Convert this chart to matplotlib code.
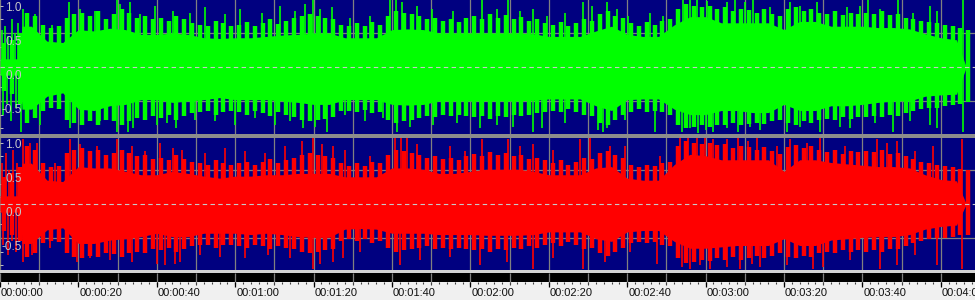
import numpy as np
import matplotlib
matplotlib.use('Agg')
import matplotlib.pyplot as plt
from matplotlib.patches import Rectangle

plt.rcParams['font.family'] = ['Liberation Sans', 'DejaVu Sans']

# dense body of each channel (time in s, amplitude)
body_t = [0, 5.2, 5.6, 8, 12, 16, 20, 24, 28, 32, 36, 40, 44, 48, 52, 56, 60, 64, 68, 72,
          76, 80, 84, 88, 92, 96, 100, 104, 108, 112, 116, 120, 124, 128, 132, 136, 140,
          144, 148, 152, 156, 160, 164, 168, 172, 176, 180, 184, 188, 192, 196, 200, 204,
          208, 212, 216, 220, 224, 228, 232, 236, 240, 244, 246.5]

green_top = [0.12, 0.12, 0.6, 0.6, 0.38, 0.36, 0.55, 0.53, 0.57, 0.55, 0.48, 0.48, 0.5, 0.48,
             0.43, 0.42, 0.43, 0.43, 0.45, 0.47, 0.48, 0.5, 0.5, 0.43, 0.43, 0.43, 0.55, 0.56,
             0.55, 0.5, 0.5, 0.5, 0.5, 0.5, 0.5, 0.49, 0.45, 0.45, 0.45, 0.53, 0.6, 0.48, 0.45,
             0.45, 0.62, 0.74, 0.74, 0.65, 0.65, 0.65, 0.65, 0.55, 0.67, 0.67, 0.6, 0.6, 0.6,
             0.58, 0.58, 0.56, 0.49, 0.43, 0.4, 0.0]
green_bot = [-0.12, -0.12, -0.62, -0.62, -0.43, -0.38, -0.62, -0.64, -0.57, -0.55, -0.48, -0.48,
             -0.52, -0.5, -0.48, -0.45, -0.48, -0.48, -0.48, -0.5, -0.52, -0.55, -0.55, -0.48,
             -0.48, -0.48, -0.55, -0.56, -0.55, -0.5, -0.5, -0.5, -0.5, -0.5, -0.5, -0.49,
             -0.47, -0.47, -0.47, -0.57, -0.64, -0.48, -0.47, -0.47, -0.62, -0.7, -0.7, -0.64,
             -0.64, -0.67, -0.67, -0.55, -0.64, -0.64, -0.57, -0.57, -0.55, -0.52, -0.5, -0.5,
             -0.43, -0.41, -0.4, 0.0]
red_top = [0.12, 0.12, 0.6, 0.6, 0.35, 0.33, 0.55, 0.53, 0.53, 0.48, 0.43, 0.43, 0.48, 0.45,
           0.41, 0.38, 0.41, 0.41, 0.43, 0.43, 0.45, 0.45, 0.45, 0.4, 0.4, 0.4, 0.53, 0.53,
           0.51, 0.45, 0.45, 0.48, 0.51, 0.51, 0.51, 0.48, 0.43, 0.43, 0.43, 0.53, 0.55, 0.38,
           0.35, 0.35, 0.58, 0.73, 0.71, 0.65, 0.65, 0.65, 0.65, 0.48, 0.65, 0.65, 0.61, 0.59,
           0.57, 0.55, 0.55, 0.53, 0.43, 0.36, 0.34, 0.0]
red_bot = [-0.12, -0.12, -0.58, -0.58, -0.38, -0.35, -0.58, -0.58, -0.53, -0.51, -0.48, -0.43,
           -0.48, -0.48, -0.43, -0.43, -0.43, -0.45, -0.43, -0.45, -0.48, -0.49, -0.49, -0.37,
           -0.36, -0.37, -0.43, -0.43, -0.43, -0.45, -0.45, -0.45, -0.46, -0.46, -0.46, -0.45,
           -0.41, -0.41, -0.41, -0.51, -0.55, -0.41, -0.39, -0.39, -0.55, -0.65, -0.65, -0.63,
           -0.61, -0.61, -0.61, -0.51, -0.61, -0.61, -0.53, -0.51, -0.49, -0.48, -0.48, -0.45,
           -0.37, -0.33, -0.31, 0.0]

# hair on the body edge, one line every 2 s (1, 3, ... 247 s)
hair_t = np.arange(1, 248, 2)

green_hair_up = [0.35, 0.4, 0.5, 0.8, 0.75, 0.62, 0.58, 0.6, 0.72, 0.78,
                 0.8, 0.75, 0.82, 0.7, 0.78, 0.85, 0.8, 0.72, 0.75, 0.7,
                 0.72, 0.68, 0.75, 0.7, 0.65, 0.62, 0.6, 0.68, 0.64, 0.6,
                 0.62, 0.66, 0.6, 0.65, 0.7, 0.63, 0.68, 0.72, 0.75, 0.78,
                 0.75, 0.72, 0.7, 0.62, 0.6, 0.64, 0.6, 0.66, 0.62, 0.75,
                 0.82, 0.8, 0.78, 0.75, 0.7, 0.72, 0.68, 0.7, 0.66, 0.72,
                 0.75, 0.7, 0.78, 0.72, 0.76, 0.7, 0.74, 0.68, 0.7, 0.65,
                 0.62, 0.66, 0.6, 0.64, 0.7, 0.68, 0.78, 0.82, 0.75, 0.72,
                 0.65, 0.6, 0.66, 0.62, 0.68, 0.7, 0.85, 0.92, 0.9, 0.88,
                 0.9, 0.85, 0.88, 0.82, 0.86, 0.84, 0.8, 0.85, 0.78, 0.75,
                 0.85, 0.88, 0.82, 0.86, 0.8, 0.78, 0.82, 0.76, 0.8, 0.78,
                 0.8, 0.78, 0.82, 0.76, 0.78, 0.72, 0.7, 0.68, 0.66, 0.65,
                 0.62, 0.6, 0.58, 0.55]
green_hair_dn = [-0.35, -0.4, -0.55, -0.82, -0.75, -0.65, -0.6, -0.62, -0.78, -0.82,
                 -0.85, -0.8, -0.85, -0.78, -0.8, -0.85, -0.8, -0.75, -0.78, -0.72,
                 -0.75, -0.7, -0.78, -0.72, -0.68, -0.66, -0.65, -0.7, -0.66, -0.65,
                 -0.66, -0.7, -0.64, -0.68, -0.72, -0.66, -0.7, -0.74, -0.78, -0.8,
                 -0.78, -0.76, -0.74, -0.65, -0.64, -0.66, -0.63, -0.68, -0.66, -0.78,
                 -0.82, -0.8, -0.78, -0.75, -0.72, -0.74, -0.7, -0.72, -0.7, -0.72,
                 -0.74, -0.72, -0.76, -0.72, -0.74, -0.7, -0.72, -0.7, -0.68, -0.66,
                 -0.64, -0.66, -0.62, -0.66, -0.7, -0.72, -0.82, -0.86, -0.78, -0.7,
                 -0.66, -0.62, -0.66, -0.64, -0.66, -0.7, -0.85, -0.9, -0.88, -0.86,
                 -0.88, -0.85, -0.86, -0.82, -0.86, -0.84, -0.82, -0.84, -0.8, -0.78,
                 -0.82, -0.85, -0.8, -0.82, -0.78, -0.76, -0.78, -0.74, -0.76, -0.74,
                 -0.74, -0.72, -0.74, -0.7, -0.72, -0.68, -0.64, -0.62, -0.6, -0.6,
                 -0.58, -0.56, -0.55, -0.52]
red_hair_up = [0.4, 0.45, 0.55, 0.85, 0.8, 0.6, 0.55, 0.56, 0.75, 0.8,
               0.82, 0.78, 0.8, 0.72, 0.75, 0.8, 0.75, 0.7, 0.72, 0.66,
               0.68, 0.64, 0.72, 0.66, 0.62, 0.6, 0.58, 0.64, 0.6, 0.58,
               0.6, 0.62, 0.58, 0.62, 0.66, 0.6, 0.64, 0.68, 0.72, 0.75,
               0.72, 0.7, 0.68, 0.6, 0.56, 0.6, 0.56, 0.62, 0.6, 0.72,
               0.8, 0.78, 0.75, 0.72, 0.68, 0.7, 0.66, 0.68, 0.64, 0.7,
               0.74, 0.7, 0.76, 0.72, 0.75, 0.7, 0.72, 0.66, 0.68, 0.64,
               0.6, 0.64, 0.58, 0.62, 0.68, 0.66, 0.75, 0.78, 0.72, 0.68,
               0.58, 0.55, 0.58, 0.56, 0.6, 0.62, 0.85, 0.92, 0.9, 0.88,
               0.9, 0.86, 0.88, 0.82, 0.85, 0.84, 0.8, 0.84, 0.78, 0.74,
               0.84, 0.86, 0.82, 0.85, 0.8, 0.76, 0.8, 0.74, 0.78, 0.76,
               0.78, 0.76, 0.8, 0.74, 0.75, 0.7, 0.66, 0.62, 0.6, 0.58,
               0.56, 0.55, 0.52, 0.5]
red_hair_dn = [-0.4, -0.45, -0.55, -0.78, -0.72, -0.58, -0.55, -0.56, -0.72, -0.78,
               -0.8, -0.76, -0.78, -0.72, -0.74, -0.78, -0.72, -0.7, -0.72, -0.66,
               -0.68, -0.64, -0.7, -0.66, -0.62, -0.6, -0.6, -0.64, -0.6, -0.6,
               -0.62, -0.64, -0.6, -0.62, -0.66, -0.62, -0.64, -0.66, -0.7, -0.72,
               -0.7, -0.68, -0.66, -0.55, -0.52, -0.55, -0.52, -0.58, -0.55, -0.65,
               -0.7, -0.68, -0.66, -0.64, -0.62, -0.66, -0.64, -0.66, -0.64, -0.66,
               -0.68, -0.66, -0.7, -0.66, -0.68, -0.64, -0.66, -0.62, -0.64, -0.6,
               -0.58, -0.62, -0.56, -0.6, -0.66, -0.64, -0.72, -0.76, -0.7, -0.64,
               -0.58, -0.56, -0.58, -0.56, -0.6, -0.62, -0.8, -0.86, -0.85, -0.82,
               -0.84, -0.8, -0.82, -0.78, -0.82, -0.8, -0.76, -0.8, -0.76, -0.72,
               -0.78, -0.8, -0.76, -0.78, -0.72, -0.7, -0.72, -0.68, -0.7, -0.68,
               -0.7, -0.68, -0.7, -0.66, -0.66, -0.62, -0.58, -0.55, -0.52, -0.5,
               -0.5, -0.48, -0.46, -0.45]

# single peaks sticking out of the body (time in s, amplitude)
green_up_t = [0.5, 1.3, 2.0, 3.1, 3.8, 4.6, 5.9, 6.9, 8.9, 13.3, 17.6, 20.4, 24.2, 29.8,
              30.6, 33.2, 35.7, 39.5, 44.1, 48.5, 52.3, 57.4, 61.2, 66.8, 71.4, 75.3,
              77.8, 79.8, 81.6, 84.7, 89.3, 94.4, 99.5, 101.0, 102.6, 106.4, 110.2,
              115.6, 123.0, 126.8, 129.6, 132.7, 136.0, 139.5, 144.1, 148.7, 151.0,
              154.8, 157.4, 160.2, 165.8, 169.1, 174.2, 176.0, 177.8, 180.4, 185.5,
              187.5, 190.1, 192.1, 196.4, 201.5, 204.1, 208.4, 216.1, 219.4, 221.4,
              224.5, 229.1, 232.9, 237.2, 239.0, 245.7]
green_up_v = [0.55, 0.6, 0.45, 0.7, 0.5, 0.65, 0.85, 0.8, 0.78, 0.62, 0.95, 0.85, 0.82, 1.0,
              0.92, 0.95, 0.78, 0.9, 0.82, 0.8, 0.88, 0.78, 0.85, 0.8, 0.9, 0.82,
              0.92, 1.0, 0.85, 0.88, 0.72, 0.75, 0.98, 1.0, 0.95, 0.9, 0.85,
              0.82, 1.0, 0.85, 1.0, 0.82, 0.85, 0.75, 0.8, 0.95, 0.9,
              0.95, 0.85, 0.75, 0.8, 0.75, 1.0, 0.98, 1.0, 0.97, 0.95,
              1.0, 0.95, 0.98, 0.88, 0.95, 0.9, 0.95, 0.88, 0.9, 0.98,
              0.85, 1.0, 0.8, 0.9, 0.82, 0.98]
green_dn_t = [0.8, 1.8, 2.8, 4.1, 5.4, 10.2, 17.9, 21.2, 25.5, 29.8, 32.7, 33.9, 40.1,
              42.6, 44.9, 49.7, 54.8, 59.9, 65.1, 70.2, 74.0, 77.3, 80.4, 83.4, 88.0,
              93.1, 97.7, 101.3, 104.6, 110.5, 116.6, 122.4, 126.8, 130.9, 136.0,
              138.3, 144.1, 152.6, 153.8, 154.8, 159.4, 167.1, 174.0, 176.0, 178.1,
              180.1, 181.9, 185.5, 188.3, 191.3, 193.9, 200.8, 204.1, 209.2, 214.3,
              216.8, 223.2, 227.8, 232.1, 237.2, 239.0, 245.7]
green_dn_v = [-0.7, -0.55, -0.8, -0.6, -0.95, -0.85, -0.9, -0.85, -0.8, -0.95, -0.95, -0.9, -0.85,
              -0.82, -0.9, -0.78, -0.8, -0.85, -0.75, -0.85, -0.8, -0.9, -0.88, -0.95, -0.7,
              -0.8, -0.75, -0.95, -0.88, -0.85, -0.82, -0.9, -0.85, -0.88, -0.95,
              -0.9, -0.82, -0.92, -0.95, -0.9, -0.78, -0.95, -0.95, -0.9, -0.97,
              -0.92, -0.95, -0.9, -0.95, -0.88, -0.92, -0.95, -0.88, -0.95, -0.88,
              -0.9, -0.82, -0.95, -0.8, -0.85, -0.9, -0.95]
red_up_t = [0.5, 1.5, 2.3, 3.3, 4.3, 5.9, 7.7, 9.4, 14.0, 17.9, 20.4, 24.7, 29.8, 33.7,
            37.0, 40.8, 44.1, 46.4, 52.3, 57.4, 62.5, 67.6, 72.7, 77.0, 79.8, 82.1,
            84.9, 88.0, 94.4, 100.8, 102.3, 103.8, 106.4, 114.8, 118.6, 123.0, 129.6,
            132.7, 136.0, 141.1, 148.0, 150.5, 155.6, 159.4, 168.4, 173.5, 175.5,
            177.8, 179.8, 181.9, 185.5, 188.3, 190.8, 193.1, 198.2, 201.5, 205.9,
            209.2, 215.6, 223.7, 226.3, 228.8, 233.4, 238.0, 245.4]
red_up_v = [0.6, 0.75, 0.5, 0.8, 0.6, 0.95, 0.9, 0.9, 0.6, 0.95, 0.88, 0.85, 0.95, 0.85,
            0.78, 0.9, 0.82, 0.8, 0.75, 0.82, 0.78, 0.75, 0.85, 0.92, 1.0, 0.88,
            0.85, 0.8, 0.7, 1.0, 0.97, 1.0, 0.88, 0.85, 0.78, 0.95, 0.95,
            0.85, 0.88, 0.8, 0.95, 0.97, 0.85, 0.85, 0.7, 0.98, 1.0,
            0.97, 1.0, 0.95, 0.95, 1.0, 0.92, 0.97, 0.85, 0.95, 0.9,
            1.0, 0.85, 0.95, 0.9, 0.92, 0.78, 0.85, 0.95]
red_dn_t = [0.8, 2.0, 3.1, 4.1, 5.9, 8.2, 12.8, 19.6, 23.0, 28.1, 33.7, 40.1, 42.1, 44.6,
            45.9, 51.0, 56.1, 62.5, 68.4, 74.0, 79.8, 81.6, 84.9, 87.5, 91.8, 102.0,
            107.1, 114.8, 122.4, 129.3, 136.0, 141.1, 148.7, 154.3, 160.7, 167.6,
            174.0, 176.0, 178.6, 181.1, 185.5, 188.8, 191.8, 193.9, 200.8, 207.4,
            209.9, 216.8, 224.5, 228.8, 233.4, 239.0, 245.4]
red_dn_v = [-0.6, -0.75, -0.55, -0.7, -0.85, -0.75, -0.65, -0.85, -0.8, -0.82, -0.85, -0.88, -0.9, -0.88,
            -0.85, -0.75, -0.78, -0.8, -0.75, -0.8, -0.95, -0.88, -0.85, -0.8, -0.7, -0.9,
            -0.82, -0.78, -0.9, -0.85, -0.95, -0.8, -0.95, -0.85, -0.7, -0.88,
            -0.92, -0.95, -0.9, -0.95, -0.92, -0.95, -0.88, -0.92, -0.9, -0.95,
            -0.92, -0.82, -0.95, -0.9, -0.75, -0.9, -0.95]

ruler_secs = list(range(0, 250, 20))
ruler_labels = ['00:%02d:%02d' % (s // 60, s % 60) for s in ruler_secs]
amp_labels = ['1.0', '0.5', '0.0', '-0.5']

T_END = 975 / 3.92
W, H = 975, 300
BG = '#000080'
GRID = '#808080'


def channel(rect, ylim, top, bot, hair_up, hair_dn, up_t, up_v, dn_t, dn_v, color):
    ax = fig.add_axes(rect)
    ax.set_facecolor(BG)
    ax.set_xlim(0, T_END)
    ax.set_ylim(*ylim)
    for s in ax.spines.values():
        s.set_visible(False)
    ax.set_xticks(np.arange(0, 250, 10))
    ax.set_yticks([-0.9, -0.7, -0.3, -0.1, 0.1, 0.3, 0.7, 0.9])
    ax.tick_params(axis='x', length=0, labelbottom=False)
    ax.tick_params(axis='y', direction='in', length=2.5, width=0.7, color='#c0c0c0', labelleft=False)
    ax.grid(axis='x', color=GRID, lw=0.9)
    ax.set_axisbelow(True)
    for v in (0.5, -0.5, 1.0):
        ax.axhline(v, color=GRID, lw=0.9, zorder=0.5)

    ax.fill_between(body_t, bot, top, color=color, lw=0, zorder=2)
    ax.vlines(hair_t, 0, hair_up, color=color, lw=3.2, zorder=2)
    ax.vlines(hair_t, hair_dn, 0, color=color, lw=3.2, zorder=2)
    ax.vlines(up_t, 0, up_v, color=color, lw=1.2, zorder=2)
    ax.vlines(dn_t, dn_v, 0, color=color, lw=1.2, zorder=2)

    ax.axhline(0, color='#c8c8c8', lw=0.8, ls=(0, (4, 3)), zorder=5)
    for lab in amp_labels:
        ax.annotate(lab, xy=(22 / W, float(lab)), xycoords=('axes fraction', 'data'),
                    xytext=(0, -2.5), textcoords='offset points', ha='right', va='top',
                    fontsize=8.5, color='#c8c8c8', zorder=6)
    return ax


fig = plt.figure(figsize=(9.75, 3), dpi=100, facecolor='#8c8c8c')

channel([0, (H - 134) / H, 1, 134 / H], (-0.985, 0.985), green_top, green_bot,
        green_hair_up, green_hair_dn, green_up_t, green_up_v, green_dn_t, green_dn_v, '#00ff00')
channel([0, (H - 270) / H, 1, 132 / H], (-0.97, 0.97), red_top, red_bot,
        red_hair_up, red_hair_dn, red_up_t, red_up_v, red_dn_t, red_dn_v, '#ff0000')

# light line between the waveform and the black bar
fig.patches.append(Rectangle((0, (H - 273) / H), 1, 3 / H, transform=fig.transFigure,
                             facecolor='#d4d4d4', lw=0))

# black bar with the 10 s grid
bar = fig.add_axes([0, 18 / H, 1, 9 / H])
bar.set_xlim(0, T_END)
bar.set_ylim(0, 1)
bar.axis('off')
bar.add_patch(Rectangle((0, 0), 1, 1, transform=bar.transAxes, color='black', zorder=0))
bar.vlines(np.arange(0, 250, 10), 0, 1, color=GRID, lw=0.9)

# time ruler
rul = fig.add_axes([0, 0, 1, 18 / H])
rul.set_xlim(0, T_END)
rul.set_ylim(0, 18)
rul.axis('off')
rul.add_patch(Rectangle((0, 0), 1, 1, transform=rul.transAxes, color='#f0f0f0', zorder=0))
rul.vlines(np.arange(0, 250, 2), 16.5, 18, color='#404040', lw=0.8)
rul.vlines(np.arange(0, 250, 10), 15.5, 18, color='#404040', lw=0.8)
rul.vlines(ruler_secs, 13, 18, color='black', lw=0.9)
for s, lab in zip(ruler_secs, ruler_labels):
    rul.text(s + 0.25, 12.5, lab, ha='left', va='top', fontsize=8, color='#101010')

fig.savefig('out.png', dpi=100, facecolor=fig.get_facecolor())
